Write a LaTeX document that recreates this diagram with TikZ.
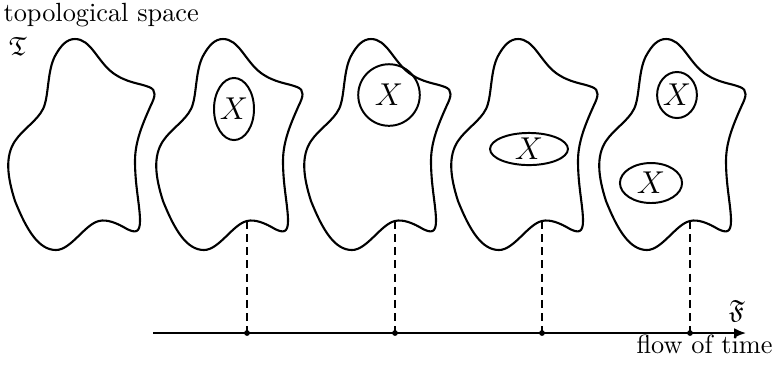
\documentclass[tikz,border=0pt]{standalone}
\usepackage{amsmath,amssymb}
\usepackage{tikz}
\usetikzlibrary{shapes.geometric,arrows.meta}

\begin{document}
\begin{tikzpicture}[x=0.38pt,y=-0.38pt,>={Latex[length=4.5pt,width=3.8pt]},
  blobline/.style={line width=0.8pt},
  xset/.style={draw,ellipse,line width=0.75pt,inner sep=0pt,font=\fontsize{11.5}{13}\selectfont},
  timeline/.style={line width=0.8pt,dash pattern=on 3pt off 2pt},
  lbl/.style={inner sep=0pt}]
\useasboundingbox (0,0) rectangle (777,371);
% the five copies of the space
\foreach \bx in {99,247,395,542,690}
  \draw[blobline,shift={(\bx,221)}] (-24,-182)
    .. controls (-8,-182) and (-2,-160) .. (14,-148)
    .. controls (28,-138) and (40,-138) .. (50,-134)
    .. controls (58,-131) and (56,-124) .. (52,-116)
    .. controls (44,-98) and (36,-80) .. (36,-60)
    .. controls (36,-35) and (41,-15) .. (41,0)
    .. controls (41,12) and (36,12) .. (28,8)
    .. controls (18,2) and (8,-2) .. (0,0)
    .. controls (-14,3) and (-28,29) .. (-43,29)
    .. controls (-60,29) and (-72,10) .. (-84,-20)
    .. controls (-92,-45) and (-94,-65) .. (-84,-80)
    .. controls (-76,-92) and (-62,-100) .. (-56,-112)
    .. controls (-50,-124) and (-52,-150) .. (-44,-165)
    .. controls (-38,-176) and (-32,-182) .. cycle;
% the sets X
\node[xset,minimum width=15.2pt,minimum height=23.6pt] (x2) at (234,109) {$X$};
\node[xset,minimum width=23.4pt,minimum height=23.4pt] (x3) at (389,95) {$X$};
\node[xset,minimum width=29.6pt,minimum height=12.2pt] (x4) at (529,149) {$X$};
\node[xset,minimum width=11.8pt,minimum height=17.5pt] (x5a) at (677,95) {$X$};
\node[xset,minimum width=23.6pt,minimum height=15.2pt] (x5b) at (651,183) {$X$};
% labels
\node[lbl,anchor=base west] (top) at (3,21) {topological space};
\node[lbl] (T) at (18,46) {$\mathfrak{T}$};
\node[lbl] (F) at (737,311) {$\mathfrak{F}$};
\node[lbl,anchor=base east] (flow) at (773,353) {flow of time};
% time axis
\coordinate (t0) at (153,333);
\coordinate (t6) at (746,333);
\draw[->,line width=0.8pt] (t0) -- (t6);
\foreach \i/\bx in {2/247,3/395,4/542,5/690} {
  \coordinate (b\i) at (\bx,221);
  \coordinate (t\i) at (\bx,333);
  \draw[timeline] (b\i) -- (t\i);
  \fill (t\i) circle (1.1pt);
}
\end{tikzpicture}
\end{document}
